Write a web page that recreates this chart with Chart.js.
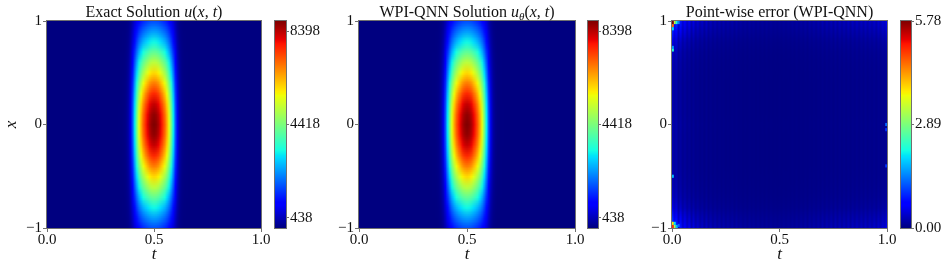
<!DOCTYPE html>
<html><head><meta charset="utf-8">
<script src="https://cdn.jsdelivr.net/npm/chart.js@4.4.1/dist/chart.umd.min.js"></script>
<style>
html,body{margin:0;padding:0;background:#fff;}
#wrap{position:relative;width:947px;height:270px;overflow:hidden;background:#fff;}
canvas{position:absolute;top:0;}
</style></head><body>
<div id="wrap">
<canvas id="p1" style="left:0px" width="278" height="270"></canvas>
<canvas id="c1" style="left:268px" width="64" height="270"></canvas>
<canvas id="p2" style="left:330px" width="262" height="270"></canvas>
<canvas id="c2" style="left:582px" width="60" height="270"></canvas>
<canvas id="p3" style="left:640px" width="265" height="270"></canvas>
<canvas id="c3" style="left:894px" width="53" height="270"></canvas>
</div>
<script>
// ---------------- data ----------------
const tTicks = [0, 0.5, 1];
const tTickLabels = ['0.0', '0.5', '1.0'];
const xTicks = [-1, 0, 1];
const xTickLabels = ['\u22121', '0', '1'];

// u(x=0, t) sampled at t = 0.32 ... 0.68 (step 0.01)
const tGrid = [0.32,0.33,0.34,0.35,0.36,0.37,0.38,0.39,0.40,0.41,0.42,0.43,0.44,0.45,0.46,0.47,0.48,0.49,0.50,
               0.51,0.52,0.53,0.54,0.55,0.56,0.57,0.58,0.59,0.60,0.61,0.62,0.63,0.64,0.65,0.66,0.67,0.68];
const exactAlongT = [2,4,9,18,35,106,309,840,1856,3182,4420,5569,6453,7160,7691,8133,8531,8752,8840,
                     8752,8531,8133,7691,7160,6453,5569,4420,3182,1856,840,309,106,35,18,9,4,2];
const qnnAlongT   = [2,4,9,18,36,107,310,841,1855,3180,4418,5566,6450,7157,7688,8130,8528,8749,8836,
                     8750,8530,8132,7690,7159,6452,5568,4419,3182,1857,841,310,107,36,18,9,4,2];
// relative profile along x at t = 0.5, x = -1 ... 1 (step 0.1)
const xGrid = [-1,-0.9,-0.8,-0.7,-0.6,-0.5,-0.4,-0.3,-0.2,-0.1,0,0.1,0.2,0.3,0.4,0.5,0.6,0.7,0.8,0.9,1];
const exactAlongX = [0.20,0.28,0.37,0.47,0.58,0.68,0.78,0.87,0.94,0.985,1.0,0.985,0.94,0.87,0.78,0.68,0.58,0.47,0.37,0.28,0.20];
const qnnAlongX   = [0.20,0.28,0.37,0.47,0.58,0.68,0.78,0.87,0.94,0.985,1.0,0.985,0.94,0.87,0.78,0.68,0.58,0.47,0.37,0.28,0.20];

const uTicks = [438, 4418, 8398];
const uMin = -4, uMax = 8840;

// point-wise error: column level along t = 0 ... 1 (step 0.01), row weight along x
const errTGrid = [];
for (let i = 0; i <= 100; i++) errTGrid.push(i / 100);
const errAlongT = [1.0,0.55,0.75,0.35,0.6,0.3,0.5,0.25,0.42,0.2,0.35,
  0.18,0.3,0.16,0.26,0.14,0.24,0.13,0.22,0.12,0.2,0.12,0.18,0.11,0.17,0.1,0.16,0.1,0.15,0.09,0.14,
  0.09,0.13,0.08,0.12,0.08,0.12,0.08,0.11,0.07,0.11,0.07,0.1,0.07,0.1,0.07,0.1,0.07,0.09,0.07,0.09,
  0.07,0.1,0.07,0.1,0.08,0.11,0.08,0.12,0.08,0.13,0.09,0.14,0.09,0.15,0.1,0.16,0.1,0.17,0.11,0.18,
  0.11,0.19,0.12,0.2,0.12,0.21,0.13,0.22,0.13,0.22,0.14,0.23,0.14,0.23,0.15,0.24,0.15,0.24,0.16,0.25,
  0.16,0.26,0.17,0.27,0.18,0.28,0.2,0.3,0.25,0.45];
const errAlongX = [1.4,1.0,0.6,0.42,0.34,0.3,0.28,0.28,0.28,0.28,0.3,0.28,0.28,0.28,0.28,0.3,0.34,0.42,0.6,1.0,1.4];
// local error peaks
const errHotT = [0.004,0.004,0.013,0.022,0.031,0.004,0.004,0.004, 0.004,0.004,0.013,0.013,0.022,0.031,0.004, 0.996,0.996,0.996];
const errHotX = [0.985,0.955,0.985,0.985,0.985,0.925,0.72,0.745, -0.985,-0.955,-0.985,-0.955,-0.985,-0.975,-0.5, 0.0,-0.05,-0.4];
const errHotV = [5.78,4.6,3.4,2.2,1.5,2.0,2.3,1.6, 5.0,3.8,3.2,2.0,1.8,1.3,1.8, 1.3,1.0,1.0];
const errTicks = [0, 2.89, 5.78];
const errTickLabels = ['0.00', '2.89', '5.78'];
const errMin = 0, errMax = 5.78;

// ---------------- rendering helpers ----------------
const SERIF = '"Liberation Serif", "DejaVu Serif", serif';
const FRAME = '#707070';
const TXT = '#111';
const JR=[[0,0],[0.35,0],[0.66,1],[0.89,1],[1,0.5]];
const JG=[[0,0],[0.125,0],[0.375,1],[0.64,1],[0.91,0],[1,0]];
const JB=[[0,0.5],[0.11,1],[0.34,1],[0.65,0],[1,0]];
function seg(pts, v){
  for (let i=1;i<pts.length;i++){ if (v<=pts[i][0]){ const a=pts[i-1], b=pts[i]; return a[1]+(b[1]-a[1])*(v-a[0])/(b[0]-a[0]); } }
  return pts[pts.length-1][1];
}
function jet(v, vmin, vmax){
  let f=(v-vmin)/(vmax-vmin); f=Math.min(1,Math.max(0,f));
  return [seg(JR,f),seg(JG,f),seg(JB,f)].map(c=>Math.round(c*255));
}
function css(rgb){ return 'rgb('+rgb[0]+','+rgb[1]+','+rgb[2]+')'; }

function drawTitle(chart, parts){
  const ctx = chart.ctx, a = chart.chartArea;
  const fonts = {
    n: '16px ' + SERIF,
    i: 'italic 16px ' + SERIF,
    s: 'italic 11px ' + SERIF
  };
  let w = 0;
  parts.forEach(p => { ctx.font = fonts[p[1]]; w += ctx.measureText(p[0]).width; });
  let x = (a.left + a.right)/2 - w/2;
  ctx.save();
  ctx.fillStyle = TXT; ctx.textBaseline = 'alphabetic'; ctx.textAlign = 'left';
  parts.forEach(p => {
    ctx.font = fonts[p[1]];
    ctx.fillText(p[0], x, p[1]==='s' ? 19.5 : 16.5);
    x += ctx.measureText(p[0]).width;
  });
  ctx.restore();
}

function makeHeat(id, cfg){
  const plugin = {
    id: 'heat_' + id,
    beforeDatasetsDraw(chart){
      const {ctx, chartArea: a, scales} = chart;
      const sx = scales.x, sy = scales.y;
      ctx.save();
      ctx.beginPath(); ctx.rect(a.left, a.top, a.right-a.left, a.bottom-a.top); ctx.clip();
      ctx.fillStyle = css(jet(cfg.bg, cfg.vmin, cfg.vmax));
      ctx.fillRect(a.left, a.top, a.right-a.left, a.bottom-a.top);
      const nC = cfg.cols.length, nR = cfg.rows.length;
      const off = document.createElement('canvas'); off.width = nC; off.height = nR;
      const oc = off.getContext('2d'); const img = oc.createImageData(nC, nR);
      for (let r = 0; r < nR; r++){
        const ri = nR - 1 - r; // top row = largest x
        for (let c = 0; c < nC; c++){
          const rgb = jet(cfg.colVals[c] * cfg.rowVals[ri], cfg.vmin, cfg.vmax);
          const k = (r*nC + c)*4;
          img.data[k]=rgb[0]; img.data[k+1]=rgb[1]; img.data[k+2]=rgb[2]; img.data[k+3]=255;
        }
      }
      oc.putImageData(img, 0, 0);
      const dt = cfg.cols[1]-cfg.cols[0], dx = cfg.rows[1]-cfg.rows[0];
      const px0 = sx.getPixelForValue(cfg.cols[0]-dt/2), px1 = sx.getPixelForValue(cfg.cols[nC-1]+dt/2);
      const py0 = sy.getPixelForValue(cfg.rows[nR-1]+dx/2), py1 = sy.getPixelForValue(cfg.rows[0]-dx/2);
      ctx.imageSmoothingEnabled = true;
      ctx.drawImage(off, px0, py0, px1-px0, py1-py0);
      if (cfg.hotT){
        for (let i = 0; i < cfg.hotT.length; i++){
          const x0 = sx.getPixelForValue(cfg.hotT[i]-0.0045), x1 = sx.getPixelForValue(cfg.hotT[i]+0.0045);
          const y0 = sy.getPixelForValue(cfg.hotX[i]+0.015), y1 = sy.getPixelForValue(cfg.hotX[i]-0.015);
          ctx.fillStyle = css(jet(cfg.hotV[i], cfg.vmin, cfg.vmax));
          ctx.fillRect(x0, y0, x1-x0, y1-y0);
        }
      }
      ctx.restore();
    },
    afterDraw(chart){
      const {ctx, chartArea: a} = chart;
      ctx.save();
      ctx.strokeStyle = FRAME; ctx.lineWidth = 1;
      ctx.strokeRect(Math.round(a.left)-0.5, Math.round(a.top)-0.5, Math.round(a.right-a.left)+1, Math.round(a.bottom-a.top)+1);
      ctx.restore();
      drawTitle(chart, cfg.title);
    }
  };
  return new Chart(document.getElementById(id), {
    type: 'scatter',
    data: {datasets: []},
    options: {
      responsive: false, animation: false, devicePixelRatio: 1, events: [],
      layout: {padding: {top: 21, right: cfg.padRight, left: 0, bottom: 0}},
      plugins: {legend: {display: false}, tooltip: {enabled: false}, title: {display: false}},
      scales: {
        x: {
          type: 'linear', min: 0, max: 1, position: 'bottom',
          afterBuildTicks: s => { s.ticks = tTicks.map(v => ({value: v})); },
          afterFit: s => { s.height = 42; },
          ticks: {callback: (v, i) => tTickLabels[i], font: {size: 15, family: SERIF}, color: TXT, padding: -1, maxRotation: 0, autoSkip: false},
          grid: {display: true, drawOnChartArea: false, drawTicks: true, tickLength: 4, color: FRAME},
          border: {display: false},
          title: {display: true, text: 't', font: {size: 17, family: SERIF, style: 'italic'}, color: TXT, padding: {top: 0, bottom: 5}}
        },
        y: {
          type: 'linear', min: -1, max: 1, position: 'left',
          afterBuildTicks: s => { s.ticks = xTicks.map(v => ({value: v})); },
          afterFit: s => { s.width = cfg.yWidth; },
          ticks: {callback: (v, i) => xTickLabels[i], font: {size: 15, family: SERIF}, color: TXT, padding: 1, autoSkip: false},
          grid: {display: true, drawOnChartArea: false, drawTicks: true, tickLength: 4, color: FRAME},
          border: {display: false},
          title: {display: cfg.yTitle, text: 'x', font: {size: 17, family: SERIF, style: 'italic'}, color: TXT, padding: {top: 1, bottom: 0}}
        }
      }
    },
    plugins: [plugin]
  });
}

function makeBar(id, cfg){
  const plugin = {
    id: 'cbar_' + id,
    beforeDatasetsDraw(chart){
      const {ctx, chartArea: a, scales} = chart;
      const sy = scales.y;
      ctx.save();
      for (let py = Math.floor(a.top); py < Math.ceil(a.bottom); py++){
        const v = sy.getValueForPixel(py + 0.5);
        ctx.fillStyle = css(jet(v, cfg.vmin, cfg.vmax));
        ctx.fillRect(a.left, py, a.right - a.left, 1);
      }
      ctx.restore();
    },
    afterDraw(chart){
      const {ctx, chartArea: a} = chart;
      ctx.save();
      ctx.strokeStyle = FRAME; ctx.lineWidth = 1;
      ctx.strokeRect(Math.round(a.left)-0.5, Math.round(a.top)-0.5, Math.round(a.right-a.left)+1, Math.round(a.bottom-a.top)+1);
      ctx.restore();
    }
  };
  return new Chart(document.getElementById(id), {
    type: 'scatter',
    data: {datasets: []},
    options: {
      responsive: false, animation: false, devicePixelRatio: 1, events: [],
      layout: {padding: {top: 21, right: 0, left: cfg.padLeft, bottom: 42}},
      plugins: {legend: {display: false}, tooltip: {enabled: false}, title: {display: false}},
      scales: {
        x: {type: 'linear', display: false, min: 0, max: 1},
        y: {
          type: 'linear', position: 'right', min: cfg.vmin, max: cfg.vmax,
          afterBuildTicks: s => { s.ticks = cfg.ticks.map(v => ({value: v})); },
          afterFit: s => { s.width = cfg.scaleW; },
          ticks: {callback: (v, i) => cfg.labels[i], font: {size: 15, family: SERIF}, color: TXT, padding: 1, autoSkip: false},
          grid: {display: true, drawOnChartArea: false, drawTicks: true, tickLength: 3, color: FRAME},
          border: {display: false}
        }
      }
    },
    plugins: [plugin]
  });
}

makeHeat('p1', {cols: tGrid, rows: xGrid, colVals: exactAlongT, rowVals: exactAlongX, bg: 0, vmin: uMin, vmax: uMax,
  padRight: 17, yWidth: 47, yTitle: true,
  title: [['Exact Solution ', 'n'], ['u', 'i'], ['(', 'n'], ['x', 'i'], [', ', 'n'], ['t', 'i'], [')', 'n']]});
makeBar('c1', {vmin: uMin, vmax: uMax, ticks: uTicks, labels: uTicks.map(String), padLeft: 7, scaleW: 46});
makeHeat('p2', {cols: tGrid, rows: xGrid, colVals: qnnAlongT, rowVals: qnnAlongX, bg: 0, vmin: uMin, vmax: uMax,
  padRight: 17, yWidth: 29, yTitle: false,
  title: [['WPI-QNN Solution ', 'n'], ['u', 'i'], ['\u03B8', 's'], ['(', 'n'], ['x', 'i'], [', ', 'n'], ['t', 'i'], [')', 'n']]});
makeBar('c2', {vmin: uMin, vmax: uMax, ticks: uTicks, labels: uTicks.map(String), padLeft: 6, scaleW: 44});
makeHeat('p3', {cols: errTGrid, rows: xGrid, colVals: errAlongT, rowVals: errAlongX, bg: 0.03, vmin: errMin, vmax: errMax,
  hotT: errHotT, hotX: errHotX, hotV: errHotV,
  padRight: 18, yWidth: 32, yTitle: false,
  title: [['Point-wise error (WPI-QNN)', 'n']]});
makeBar('c3', {vmin: errMin, vmax: errMax, ticks: errTicks, labels: errTickLabels, padLeft: 7, scaleW: 36});
</script>
</body></html>
